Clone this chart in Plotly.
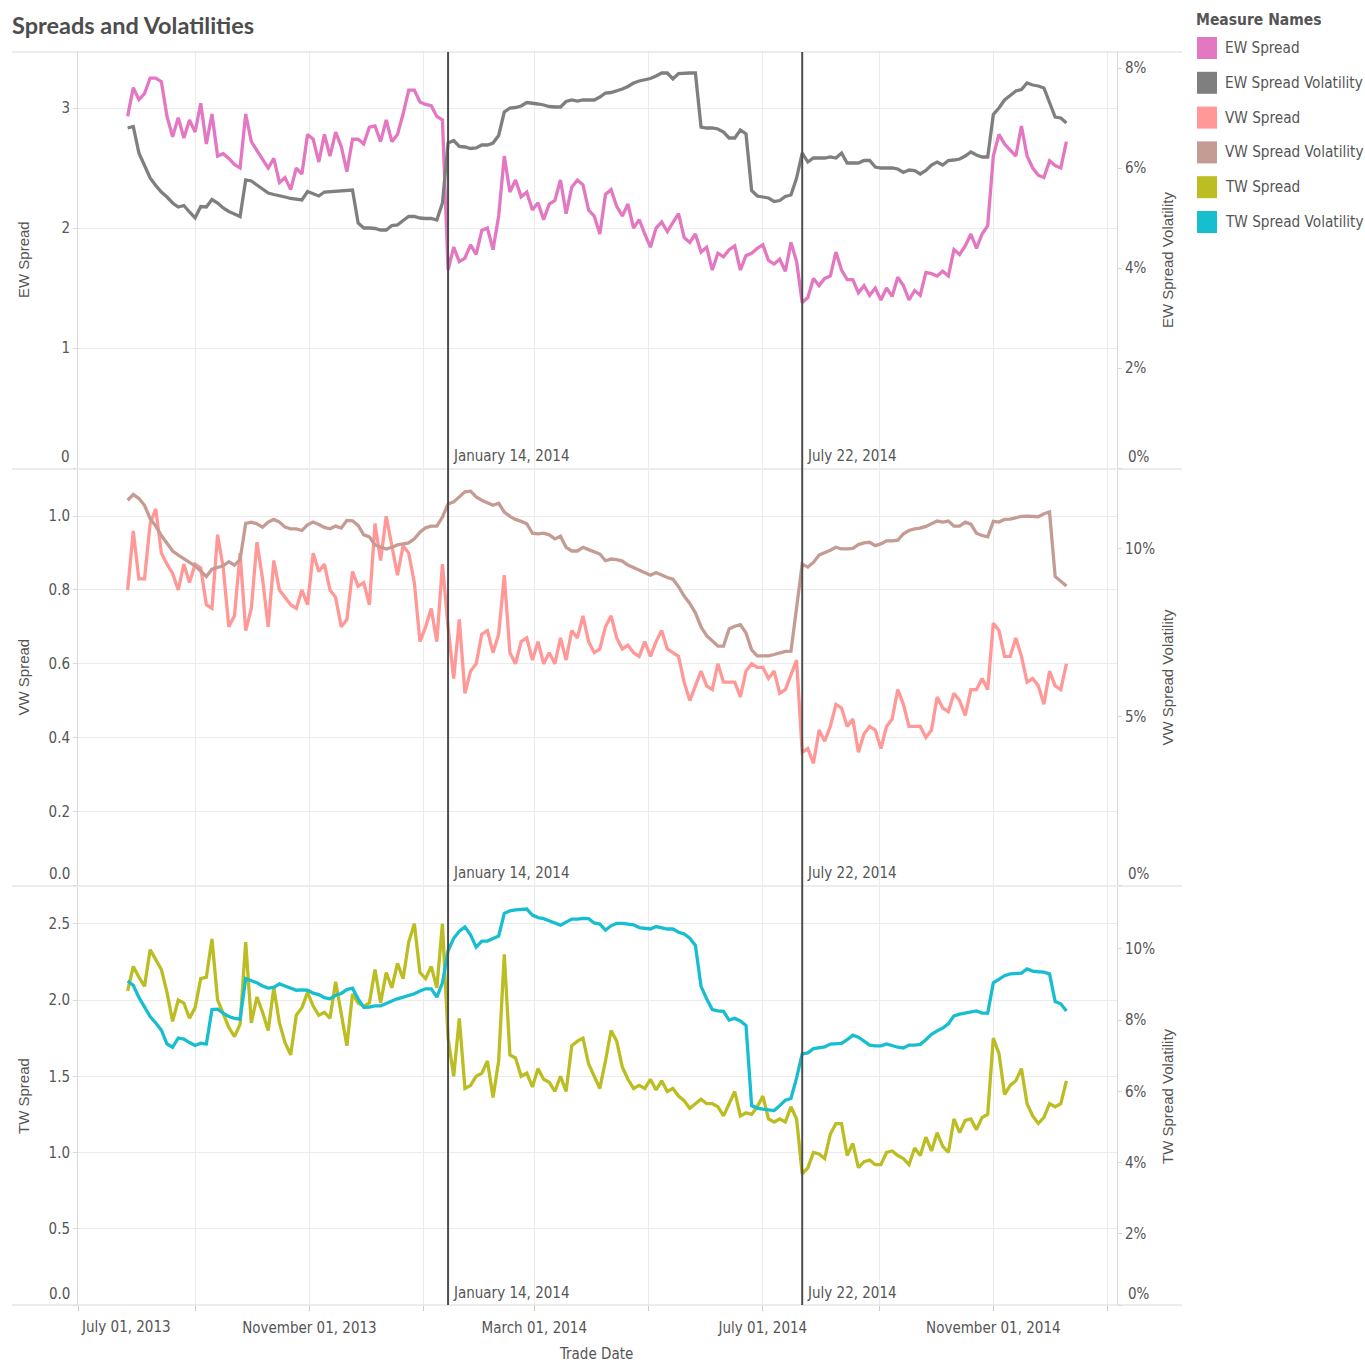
import pandas as pd
import plotly.graph_objects as go

# ---------------- data ----------------
start_date = "2013-07-27"
step_days = 3
n_points = 168
trade_dates = pd.date_range(start_date, periods=n_points, freq=f"{step_days}D")

ew_spread = [
    2.93, 3.17, 3.07, 3.12, 3.25, 3.25, 3.22, 2.93, 2.76, 2.92,
    2.75, 2.90, 2.80, 3.04, 2.70, 2.95, 2.60, 2.62, 2.58, 2.53,
    2.50, 2.95, 2.72, 2.65, 2.58, 2.50, 2.58, 2.38, 2.42, 2.32,
    2.50, 2.45, 2.78, 2.74, 2.55, 2.78, 2.60, 2.80, 2.68, 2.47,
    2.74, 2.74, 2.70, 2.84, 2.85, 2.72, 2.90, 2.72, 2.78, 2.95,
    3.15, 3.15, 3.05, 3.03, 3.02, 2.93, 2.90,
    1.65, 1.84, 1.72, 1.75, 1.86, 1.78, 1.98, 2.00, 1.82, 2.10,
    2.60, 2.30, 2.40, 2.26, 2.30, 2.15, 2.21, 2.07, 2.20, 2.23,
    2.40, 2.12, 2.34, 2.40, 2.36, 2.15, 2.10, 1.95, 2.28, 2.32,
    2.18, 2.10, 2.20, 2.00, 2.07, 1.95, 1.84, 2.00, 2.05, 1.97,
    2.05, 2.12, 1.92, 1.88, 1.95, 1.80, 1.84, 1.65, 1.79, 1.76,
    1.82, 1.85, 1.65, 1.77, 1.79, 1.83, 1.86, 1.73, 1.70, 1.74,
    1.64, 1.88, 1.72,
    1.38, 1.42, 1.58, 1.52, 1.58, 1.60, 1.80, 1.65, 1.57, 1.57,
    1.46, 1.52, 1.44, 1.50, 1.40, 1.50, 1.43, 1.59, 1.52, 1.40,
    1.48, 1.44, 1.63, 1.62, 1.60, 1.64, 1.60, 1.82, 1.78, 1.85,
    1.95, 1.83, 1.95, 2.02, 2.60, 2.78, 2.70, 2.65, 2.60, 2.85,
    2.60, 2.50, 2.44, 2.42, 2.56, 2.52, 2.50, 2.72,
]

ew_vol = [
    6.80, 6.83, 6.30, 6.05, 5.80, 5.65, 5.52, 5.42, 5.30, 5.22,
    5.25, 5.12, 5.00, 5.23, 5.22, 5.37, 5.30, 5.20, 5.13, 5.08,
    5.03, 5.76, 5.74, 5.66, 5.57, 5.50, 5.47, 5.45, 5.42, 5.39,
    5.37, 5.36, 5.53, 5.49, 5.44, 5.52, 5.53, 5.54, 5.55, 5.56,
    5.56, 4.90, 4.80, 4.80, 4.79, 4.76, 4.76, 4.85, 4.86, 4.95,
    5.03, 5.03, 5.00, 4.99, 4.99, 4.96, 5.30,
    6.50, 6.55, 6.43, 6.42, 6.39, 6.40, 6.46, 6.46, 6.50, 6.65,
    7.12, 7.20, 7.21, 7.24, 7.31, 7.30, 7.28, 7.26, 7.23, 7.22,
    7.22, 7.33, 7.36, 7.34, 7.36, 7.36, 7.36, 7.42, 7.50, 7.51,
    7.54, 7.58, 7.63, 7.70, 7.74, 7.76, 7.79, 7.84, 7.90, 7.90,
    7.78, 7.89, 7.90, 7.90, 7.90, 6.82, 6.80, 6.80, 6.78, 6.72,
    6.60, 6.60, 6.76, 6.68, 5.55, 5.44, 5.42, 5.40, 5.33, 5.35,
    5.43, 5.46, 5.80,
    6.30, 6.12, 6.20, 6.20, 6.20, 6.22, 6.20, 6.30, 6.10, 6.10,
    6.10, 6.15, 6.15, 6.02, 6.00, 6.00, 6.00, 5.98, 5.91, 5.96,
    5.95, 5.88, 5.95, 6.06, 6.12, 6.06, 6.15, 6.16, 6.18, 6.24,
    6.32, 6.26, 6.22, 6.22, 7.07, 7.20, 7.36, 7.45, 7.54, 7.57,
    7.70, 7.66, 7.64, 7.60, 7.30, 7.02, 7.00, 6.90,
]

vw_spread = [
    0.80, 0.96, 0.83, 0.83, 0.98, 1.02, 0.90, 0.87, 0.845, 0.80,
    0.87, 0.82, 0.87, 0.86, 0.76, 0.75, 0.95, 0.86, 0.70, 0.73,
    0.90, 0.69, 0.75, 0.93, 0.83, 0.70, 0.88, 0.80, 0.78, 0.76,
    0.75, 0.80, 0.76, 0.90, 0.85, 0.87, 0.80, 0.78, 0.70, 0.72,
    0.85, 0.81, 0.82, 0.76, 0.98, 0.88, 1.00, 0.92, 0.84, 0.92,
    0.90, 0.82, 0.66, 0.70, 0.75, 0.66, 0.87,
    0.70, 0.56, 0.72, 0.52, 0.58, 0.60, 0.68, 0.69, 0.63, 0.68,
    0.84, 0.63, 0.60, 0.66, 0.67, 0.61, 0.66, 0.60, 0.63, 0.60,
    0.67, 0.61, 0.69, 0.67, 0.73, 0.66, 0.63, 0.64, 0.70, 0.73,
    0.67, 0.64, 0.65, 0.63, 0.62, 0.66, 0.62, 0.66, 0.69, 0.64,
    0.63, 0.62, 0.55, 0.50, 0.54, 0.58, 0.54, 0.53, 0.60, 0.55,
    0.55, 0.55, 0.51, 0.58, 0.60, 0.59, 0.59, 0.56, 0.58, 0.52,
    0.53, 0.57, 0.61,
    0.36, 0.37, 0.33, 0.42, 0.39, 0.43, 0.49, 0.48, 0.43, 0.45,
    0.36, 0.41, 0.43, 0.42, 0.37, 0.43, 0.45, 0.53, 0.49, 0.43,
    0.43, 0.43, 0.40, 0.42, 0.51, 0.48, 0.47, 0.52, 0.50, 0.46,
    0.53, 0.53, 0.56, 0.53, 0.71, 0.69, 0.62, 0.62, 0.67, 0.62,
    0.55, 0.56, 0.54, 0.49, 0.58, 0.54, 0.53, 0.60,
]

vw_vol = [
    11.45, 11.62, 11.50, 11.30, 10.90, 10.68, 10.40, 10.15, 9.94, 9.82,
    9.70, 9.60, 9.50, 9.33, 9.18, 9.40, 9.46, 9.50, 9.62, 9.52,
    9.68, 10.76, 10.80, 10.75, 10.65, 10.80, 10.88, 10.80, 10.65, 10.60,
    10.60, 10.55, 10.72, 10.80, 10.73, 10.64, 10.60, 10.68, 10.62, 10.85,
    10.84, 10.70, 10.42, 10.36, 10.12, 10.06, 10.00, 10.05, 10.12, 10.15,
    10.18, 10.30, 10.50, 10.63, 10.68, 10.68, 10.95,
    11.34, 11.40, 11.55, 11.70, 11.72, 11.55, 11.45, 11.38, 11.30, 11.36,
    11.10, 10.97, 10.88, 10.82, 10.75, 10.47, 10.45, 10.47, 10.42, 10.30,
    10.38, 10.05, 9.94, 9.94, 10.05, 9.98, 9.92, 9.85, 9.65, 9.70,
    9.68, 9.64, 9.52, 9.45, 9.38, 9.30, 9.22, 9.30, 9.22, 9.15,
    9.10, 8.88, 8.60, 8.38, 8.10, 7.68, 7.42, 7.25, 7.11, 7.11,
    7.62, 7.70, 7.75, 7.50, 7.00, 6.82, 6.82, 6.82, 6.86, 6.90,
    6.95, 6.96, 8.20,
    9.55, 9.46, 9.60, 9.82, 9.88, 9.96, 10.05, 10.00, 10.00, 10.02,
    10.13, 10.18, 10.20, 10.10, 10.15, 10.24, 10.24, 10.26, 10.45, 10.55,
    10.60, 10.62, 10.67, 10.76, 10.83, 10.80, 10.83, 10.68, 10.68, 10.80,
    10.74, 10.47, 10.40, 10.36, 10.82, 10.80, 10.88, 10.89, 10.94, 10.97,
    10.98, 10.98, 10.96, 11.05, 11.10, 9.18, 9.05, 8.90,
]

tw_spread = [
    2.06, 2.22, 2.15, 2.09, 2.33, 2.26, 2.20, 2.05, 1.86, 2.00,
    1.98, 1.88, 1.95, 2.14, 2.15, 2.40, 2.00, 1.91, 1.82, 1.76,
    1.84, 2.38, 1.85, 2.02, 1.92, 1.80, 2.08, 1.85, 1.72, 1.64,
    1.90, 1.95, 2.05, 1.96, 1.90, 1.92, 1.88, 2.12, 1.92, 1.70,
    2.04, 1.98, 1.96, 1.98, 2.20, 1.98, 2.18, 2.08, 2.24, 2.14,
    2.38, 2.50, 2.18, 2.14, 2.22, 2.08, 2.50,
    1.75, 1.50, 1.88, 1.42, 1.44, 1.50, 1.52, 1.60, 1.36, 1.60,
    2.30, 1.64, 1.62, 1.50, 1.52, 1.43, 1.55, 1.48, 1.46, 1.40,
    1.50, 1.40, 1.70, 1.73, 1.75, 1.58, 1.50, 1.42, 1.60, 1.80,
    1.73, 1.56, 1.48, 1.42, 1.44, 1.42, 1.48, 1.41, 1.47, 1.40,
    1.42, 1.37, 1.34, 1.29, 1.32, 1.35, 1.32, 1.32, 1.30, 1.24,
    1.32, 1.40, 1.24, 1.26, 1.25, 1.30, 1.37, 1.22, 1.20, 1.22,
    1.20, 1.30, 1.22,
    0.86, 0.90, 1.00, 0.99, 0.96, 1.12, 1.19, 1.19, 0.98, 1.06,
    0.90, 0.94, 0.95, 0.92, 0.92, 1.00, 1.01, 0.98, 0.96, 0.92,
    1.03, 0.98, 1.10, 1.01, 1.13, 1.04, 1.00, 1.22, 1.13, 1.21,
    1.22, 1.15, 1.23, 1.25, 1.75, 1.65, 1.38, 1.44, 1.47, 1.55,
    1.32, 1.24, 1.19, 1.23, 1.32, 1.30, 1.32, 1.47,
]

tw_vol = [
    9.10, 8.98, 8.64, 8.36, 8.10, 7.92, 7.72, 7.33, 7.24, 7.50,
    7.47, 7.37, 7.29, 7.35, 7.33, 8.30, 8.31, 8.20, 8.10, 8.05,
    8.03, 9.17, 9.12, 9.05, 8.96, 8.90, 8.92, 9.02, 8.96, 8.90,
    8.84, 8.85, 8.84, 8.76, 8.72, 8.63, 8.60, 8.70, 8.75, 8.86,
    8.90, 8.60, 8.36, 8.37, 8.40, 8.40, 8.48, 8.54, 8.60, 8.64,
    8.69, 8.74, 8.82, 8.88, 8.88, 8.65, 9.05,
    9.95, 10.30, 10.50, 10.62, 10.40, 10.05, 10.22, 10.22, 10.28, 10.36,
    11.00, 11.07, 11.10, 11.12, 11.12, 10.95, 10.88, 10.85, 10.80, 10.73,
    10.67, 10.75, 10.84, 10.84, 10.86, 10.85, 10.73, 10.70, 10.53, 10.65,
    10.72, 10.72, 10.70, 10.68, 10.60, 10.58, 10.56, 10.63, 10.60, 10.56,
    10.56, 10.47, 10.42, 10.30, 10.10, 8.95, 8.60, 8.30, 8.26, 8.25,
    8.00, 8.05, 7.98, 7.85, 5.60, 5.53, 5.50, 5.47, 5.46, 5.60,
    5.75, 5.80, 6.38,
    7.05, 7.08, 7.20, 7.22, 7.25, 7.33, 7.33, 7.35, 7.45, 7.58,
    7.52, 7.40, 7.30, 7.28, 7.28, 7.33, 7.28, 7.24, 7.22, 7.30,
    7.30, 7.32, 7.45, 7.60, 7.70, 7.78, 7.90, 8.12, 8.17, 8.20,
    8.22, 8.26, 8.20, 8.20, 9.05, 9.15, 9.25, 9.30, 9.30, 9.32,
    9.44, 9.38, 9.36, 9.35, 9.30, 8.52, 8.46, 8.26,
]

measure_names = ["EW Spread", "EW Spread Volatility", "VW Spread",
                 "VW Spread Volatility", "TW Spread", "TW Spread Volatility"]
measure_colors = ["#E377C2", "#7F7F7F", "#FF9896", "#C49C94", "#BCBD22", "#17BECF"]

event_dates = ["2014-01-14", "2014-07-22"]
event_labels = ["January 14, 2014", "July 22, 2014"]

x_tick_dates = ["2013-07-01", "2013-09-01", "2013-11-01", "2014-01-01", "2014-03-01",
                "2014-05-01", "2014-07-01", "2014-09-01", "2014-11-01", "2015-01-01"]
x_tick_labels = ["July 01, 2013", "", "November 01, 2013", "", "March 01, 2014",
                 "", "July 01, 2014", "", "November 01, 2014", ""]
x_range = ["2013-06-30 12:00", "2015-01-06"]

left_ticks = [[0, 1, 2, 3], [0, 0.2, 0.4, 0.6, 0.8, 1.0], [0, 0.5, 1.0, 1.5, 2.0, 2.5]]
left_tick_text = [["0", "1", "2", "3"], ["0.0", "0.2", "0.4", "0.6", "0.8", "1.0"],
                  ["0.0", "0.5", "1.0", "1.5", "2.0", "2.5"]]
right_ticks = [[0, 2, 4, 6, 8], [0, 5, 10], [0, 2, 4, 6, 8, 10]]
left_max = [3.467, 1.1254, 2.741]
right_max = [8.32, 12.35, 11.74]

# ---------------- layout helpers ----------------
W = H = 1365
NARROW = "Liberation Sans Narrow, Arial Narrow, DejaVu Sans Condensed, sans-serif"
REG = "Liberation Sans, Arial, sans-serif"
TXT = "#555555"
GRID = "#ebebeb"
EDGE = "#d9d9d9"


def fx(p):
    return p / W


def fy(p):
    return 1 - p / H


panel_top = [52, 470, 887]
panel_bot = [468, 885, 1305]
plot_left, plot_right = 78, 1117

spreads = [ew_spread, vw_spread, tw_spread]
vols = [ew_vol, vw_vol, tw_vol]

fig = go.Figure()
layout = dict(
    width=W, height=H, margin=dict(l=0, r=0, t=0, b=0),
    plot_bgcolor="white", paper_bgcolor="white", showlegend=False,
    font=dict(family=NARROW, color=TXT, size=15),
)

for k in range(3):
    ly = "y" if k == 0 else f"y{2 * k + 1}"
    ry = f"y{2 * k + 2}"
    lname = "yaxis" if k == 0 else f"yaxis{2 * k + 1}"
    rname = f"yaxis{2 * k + 2}"
    fig.add_trace(go.Scatter(x=trade_dates, y=vols[k], yaxis=ry, xaxis="x", mode="lines",
                             name=measure_names[2 * k + 1],
                             line=dict(color=measure_colors[2 * k + 1], width=3.3)))
    fig.add_trace(go.Scatter(x=trade_dates, y=spreads[k], yaxis=ly, xaxis="x", mode="lines",
                             name=measure_names[2 * k],
                             line=dict(color=measure_colors[2 * k], width=3.3)))
    dom = [fy(panel_bot[k]), fy(panel_top[k])]
    layout[lname] = dict(
        domain=dom, anchor="x", range=[0, left_max[k]],
        tickvals=left_ticks[k], ticktext=[""] + left_tick_text[k][1:],
        showgrid=True, gridcolor=GRID, zeroline=False,
        showline=True, linecolor=EDGE, ticks="outside", ticklen=4, tickcolor=EDGE,
        tickfont=dict(family=NARROW, size=15, color=TXT), fixedrange=True,
    )
    layout[rname] = dict(
        overlaying=ly, side="right", anchor="x", range=[0, right_max[k]],
        tickvals=right_ticks[k], ticktext=[""] + [f"{v}%" for v in right_ticks[k][1:]],
        showgrid=False, zeroline=False,
        showline=True, linecolor=EDGE, ticks="outside", ticklen=4, tickcolor=EDGE,
        tickfont=dict(family=NARROW, size=15, color=TXT), fixedrange=True,
    )

layout["xaxis"] = dict(
    domain=[fx(plot_left), fx(plot_right)], anchor="y5", type="date", range=x_range,
    tickvals=x_tick_dates, ticktext=[""] + x_tick_labels[1:],
    showgrid=True, gridcolor=GRID, zeroline=False, showline=False,
    ticks="outside", ticklen=5, tickcolor="#cccccc",
    tickfont=dict(family=NARROW, size=15, color=TXT), ticklabelstandoff=4,
)

shapes = []
annotations = []

# panel borders (horizontal lines spanning the full width of the view)
for yy in [52, 469, 886, 1305]:
    shapes.append(dict(type="line", xref="paper", yref="paper", x0=fx(12), x1=fx(1182),
                       y0=fy(yy), y1=fy(yy), line=dict(color=EDGE, width=1)))

# event lines
for d in event_dates:
    shapes.append(dict(type="line", xref="x", yref="paper", x0=d, x1=d,
                       y0=fy(1305), y1=fy(52), line=dict(color="#4d4d4d", width=2)))

for k in range(3):
    for d, lab in zip(event_dates, event_labels):
        annotations.append(dict(x=d, xref="x", y=fy(panel_bot[k] - 12), yref="paper",
                                text=lab, showarrow=False, xanchor="left", yanchor="middle",
                                xshift=3, font=dict(family=NARROW, size=15, color=TXT)))
    annotations.append(dict(x=fx(72), xref="paper", y=fy(panel_bot[k] - 11), yref="paper",
                            text=left_tick_text[k][0], showarrow=False, xanchor="right",
                            yanchor="middle", font=dict(family=NARROW, size=15, color=TXT)))
    annotations.append(dict(x=fx(1126), xref="paper", y=fy(panel_bot[k] - 11), yref="paper",
                            text="0%", showarrow=False, xanchor="left",
                            yanchor="middle", font=dict(family=NARROW, size=15, color=TXT)))
    mid = (panel_top[k] + panel_bot[k]) / 2
    annotations.append(dict(x=fx(23), xref="paper", y=fy(mid), yref="paper",
                            text=measure_names[2 * k], showarrow=False, textangle=-90,
                            xanchor="center", yanchor="middle",
                            font=dict(family=REG, size=15, color=TXT)))
    annotations.append(dict(x=fx(1167), xref="paper", y=fy(mid), yref="paper",
                            text=measure_names[2 * k + 1], showarrow=False, textangle=-90,
                            xanchor="center", yanchor="middle",
                            font=dict(family=REG, size=15, color=TXT)))

annotations.append(dict(x=x_tick_dates[0], xref="x", y=fy(1327), yref="paper",
                        text=x_tick_labels[0], showarrow=False, xanchor="left",
                        yanchor="middle", font=dict(family=NARROW, size=15, color=TXT)))
annotations.append(dict(x=fx(596), xref="paper", y=fy(1354), yref="paper",
                        text="Trade Date", showarrow=False, xanchor="center",
                        yanchor="middle", font=dict(family=NARROW, size=15, color=TXT)))
annotations.append(dict(x=fx(10), xref="paper", y=fy(25), yref="paper",
                        text="<b>Spreads and Volatilities</b>", showarrow=False,
                        xanchor="left", yanchor="middle",
                        font=dict(family="Lato, Open Sans, sans-serif", size=23.5, color="#4d4d4d")))

# legend (Measure Names)
annotations.append(dict(x=fx(1194), xref="paper", y=fy(20), yref="paper",
                        text="<b>Measure Names</b>", showarrow=False, xanchor="left",
                        yanchor="middle", font=dict(family=NARROW, size=15.5, color=TXT)))
for j, (nm, col) in enumerate(zip(measure_names, measure_colors)):
    cy = 48 + 34.8 * j
    shapes.append(dict(type="rect", xref="paper", yref="paper", x0=fx(1197), x1=fx(1217),
                       y0=fy(cy + 11), y1=fy(cy - 11), fillcolor=col, line=dict(width=0)))
    annotations.append(dict(x=fx(1223), xref="paper", y=fy(cy), yref="paper",
                            text=nm, showarrow=False, xanchor="left", yanchor="middle",
                            font=dict(family=NARROW, size=15.2, color=TXT)))

layout["shapes"] = shapes
layout["annotations"] = annotations
fig.update_layout(**layout)

fig.write_html("out.html",
               config={"displayModeBar": False},
               post_script="document.body.style.margin='0px';document.body.style.padding='0px';")
